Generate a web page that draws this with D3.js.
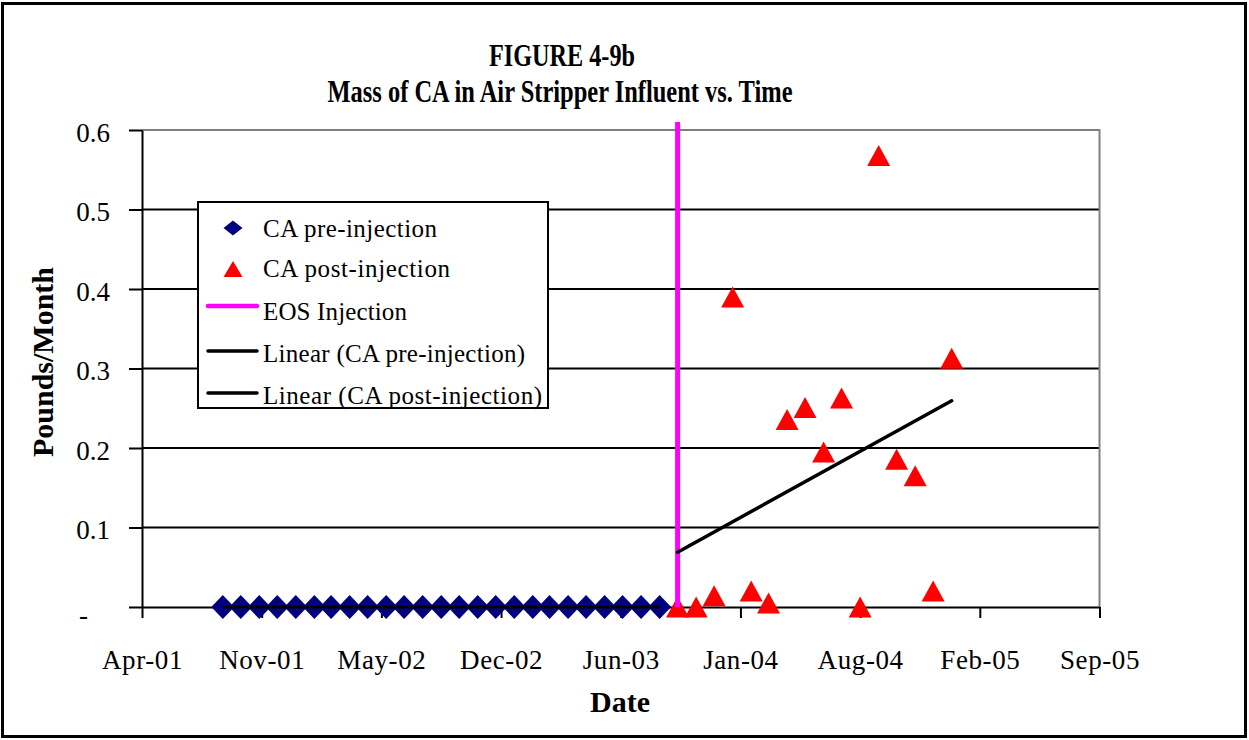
<!DOCTYPE html>
<html><head><meta charset="utf-8">
<script src="https://cdn.jsdelivr.net/npm/d3@7"></script>
<style>
body{margin:0;background:#fff;}
svg{display:block;}
text{font-family:"Liberation Serif","Times New Roman",serif;fill:#000;}
</style>
</head><body>
<svg id="chart" width="1249" height="740"></svg>
<script>
// ---- data ----
const preDates = ["2001-09-01","2001-10-01","2001-11-01","2001-12-01","2002-01-01","2002-02-01","2002-03-01","2002-04-01","2002-05-01","2002-06-01","2002-07-01","2002-08-01","2002-09-01","2002-10-01","2002-11-01","2002-12-01","2003-01-01","2003-02-01","2003-03-01","2003-04-01","2003-05-01","2003-06-01","2003-07-01","2003-08-01","2003-09-01"];
const preValues = [0,0,0,0,0,0,0,0,0,0,0,0,0,0,0,0,0,0,0,0,0,0,0,0,0];
const postDates = ["2003-10-01","2003-11-01","2003-12-01","2004-01-01","2004-02-01","2004-03-01","2004-04-01","2004-05-01","2004-06-01","2004-07-01","2004-08-01","2004-09-01","2004-10-01","2004-11-01","2004-12-01","2005-01-01"];
const postValues = [0,0,0.014,0.39,0.02,0.005,0.236,0.251,0.195,0.263,0,0.568,0.186,0.165,0.02,0.313];
const eosDates = ["2003-10-01","2003-10-01"];
const eosValues = [0,0.61];
const xDomain = ["2001-04-19","2005-09-05"];
const xTickDates = ["2001-04-19","2001-11-05","2002-05-24","2002-12-10","2003-06-28","2004-01-14","2004-08-01","2005-02-17","2005-09-05"];
const xTickLabels = ["Apr-01","Nov-01","May-02","Dec-02","Jun-03","Jan-04","Aug-04","Feb-05","Sep-05"];
const yTickValues = [0,0.1,0.2,0.3,0.4,0.5,0.6];
const yTickLabels = ["-","0.1","0.2","0.3","0.4","0.5","0.6"];
const seriesNames = ["CA pre-injection","CA post-injection","EOS Injection","Linear (CA pre-injection)","Linear (CA post-injection)"];
const titleLines = ["FIGURE 4-9b","Mass of CA in Air Stripper Influent vs. Time"];
const xTitle = "Date";
const yTitle = "Pounds/Month";

// ---- setup ----
const parse = d3.utcParse("%Y-%m-%d");
const svg = d3.select("#chart");
const L = 142, R = 1099.5, T = 130, B = 607;
const x = d3.scaleUtc().domain(xDomain.map(parse)).range([L, R]);
const y = d3.scaleLinear().domain([0, 0.6]).range([B, T]);

const pre = preDates.map((d,i)=>({date:parse(d), v:preValues[i]}));
const post = postDates.map((d,i)=>({date:parse(d), v:postValues[i]}));
const eos = eosDates.map((d,i)=>({date:parse(d), v:eosValues[i]}));

// outer border
svg.append("rect").attr("x",2.5).attr("y",3.5).attr("width",1243).attr("height",733)
  .attr("fill","#fff").attr("stroke","#000").attr("stroke-width",3);

// gridlines
svg.append("g").selectAll("line").data(yTickValues.filter(v=>v>0 && v<0.6)).join("line")
  .attr("x1",L).attr("x2",R).attr("y1",d=>y(d)).attr("y2",d=>y(d))
  .attr("stroke","#000").attr("stroke-width",2);
// top & right plot border (grey)
svg.append("path").attr("d",`M${L},${y(0.6)}H${R}V${B}`).attr("fill","none")
  .attr("stroke","#808080").attr("stroke-width",2);

// axes
const xAxis = svg.append("g").attr("transform",`translate(0,${B})`)
  .call(d3.axisBottom(x).tickValues(xTickDates.map(parse)).tickFormat((d,i)=>xTickLabels[i]).tickSize(11).tickSizeOuter(0));
xAxis.select(".domain").attr("stroke","#000").attr("stroke-width",2);
xAxis.selectAll(".tick line").attr("stroke","#000").attr("stroke-width",2);
xAxis.selectAll(".tick text").attr("y",62).attr("dy",0).attr("font-size",27)
  .attr("font-family","Liberation Serif").attr("fill","#000").attr("letter-spacing",0.6);

const yAxis = svg.append("g").attr("transform",`translate(${L},0)`)
  .call(d3.axisLeft(y).tickValues(yTickValues).tickFormat((d,i)=>yTickLabels[i]).tickSize(13).tickSizeOuter(0));
yAxis.select(".domain").attr("stroke","#000").attr("stroke-width",2);
yAxis.selectAll(".tick line").attr("stroke","#000").attr("stroke-width",2);
yAxis.selectAll(".tick text").attr("font-size",27).attr("font-family","Liberation Serif").attr("fill","#000")
  .attr("dy",(d,i)=> yTickLabels[i]==="-" ? "0.6em" : "0.42em")
  .attr("x",(d,i)=> yTickLabels[i]==="-" ? -54 : -32);

// markers
const diamond = (w,h)=>`M0,${-h}L${w},0L0,${h}L${-w},0Z`;
const tri = (w,h)=>`M0,${-h/2}L${w/2},${h/2}L${-w/2},${h/2}Z`;

svg.append("g").selectAll("path").data(pre).join("path")
  .attr("transform",d=>`translate(${x(d.date)},${y(d.v)})`)
  .attr("d",diamond(11.5,12)).attr("fill","#000080");

svg.append("g").selectAll("path").data(post).join("path")
  .attr("transform",d=>`translate(${x(d.date)},${y(d.v)})`)
  .attr("d",tri(23,21)).attr("fill","#FF0000");

// EOS injection line
const line = d3.line().x(d=>x(d.date)).y(d=>y(d.v));
svg.append("path").datum(eos).attr("d",line).attr("stroke","#FF00FF").attr("stroke-width",5).attr("fill","none");

// linear trendlines (least squares on time)
function trend(data){
  const xs = data.map(d=>+d.date), ys = data.map(d=>d.v);
  const mx = d3.mean(xs), my = d3.mean(ys);
  let sxy=0, sxx=0;
  xs.forEach((xv,i)=>{sxy+=(xv-mx)*(ys[i]-my); sxx+=(xv-mx)*(xv-mx);});
  const b = sxy/sxx, a = my - b*mx;
  const x0 = d3.min(xs), x1 = d3.max(xs);
  return [{date:new Date(x0), v:a+b*x0},{date:new Date(x1), v:a+b*x1}];
}
svg.append("path").datum(trend(pre)).attr("d",line).attr("stroke","#000").attr("stroke-width",3).attr("fill","none");
svg.append("path").datum(trend(post)).attr("d",line).attr("stroke","#000").attr("stroke-width",3.5)
  .attr("stroke-linecap","round").attr("fill","none");

// titles
svg.append("text").attr("x",562).attr("y",66).attr("text-anchor","middle")
  .attr("font-size",31).attr("font-weight","bold").attr("textLength",146).attr("lengthAdjust","spacingAndGlyphs").text(titleLines[0]);
svg.append("text").attr("x",560).attr("y",102).attr("text-anchor","middle")
  .attr("font-size",31).attr("font-weight","bold").attr("textLength",465).attr("lengthAdjust","spacingAndGlyphs").text(titleLines[1]);
svg.append("text").attr("x",620).attr("y",712).attr("text-anchor","middle")
  .attr("font-size",30).attr("font-weight","bold").text(xTitle);
svg.append("text").attr("transform","translate(53,362) rotate(-90)").attr("text-anchor","middle")
  .attr("font-size",30).attr("font-weight","bold").text(yTitle);

// legend
const lg = svg.append("g");
lg.append("rect").attr("x",198).attr("y",202).attr("width",350).attr("height",206)
  .attr("fill","#fff").attr("stroke","#000").attr("stroke-width",2);
const rowBase = [237,277,320,362,404];
const symY = [228,269,306,351,393];
const legendWidths = [174,187,144,262,279];
seriesNames.forEach((name,i)=>{
  lg.append("text").attr("x",263).attr("y",rowBase[i]).attr("font-size",25)
    .attr("textLength",legendWidths[i]).attr("lengthAdjust","spacing").text(name);
  if(i===0){
    lg.append("path").attr("transform",`translate(233,${symY[i]})`).attr("d",diamond(9.5,7.5)).attr("fill","#000080");
  } else if(i===1){
    lg.append("path").attr("transform",`translate(233,${symY[i]})`).attr("d",tri(19,16)).attr("fill","#FF0000");
  } else {
    lg.append("line").attr("x1",208).attr("x2",257).attr("y1",symY[i]).attr("y2",symY[i])
      .attr("stroke", i===2 ? "#FF00FF" : "#000").attr("stroke-width", i===2 ? 4.5 : 3.5).attr("stroke-linecap","round");
  }
});
</script>
</body></html>
